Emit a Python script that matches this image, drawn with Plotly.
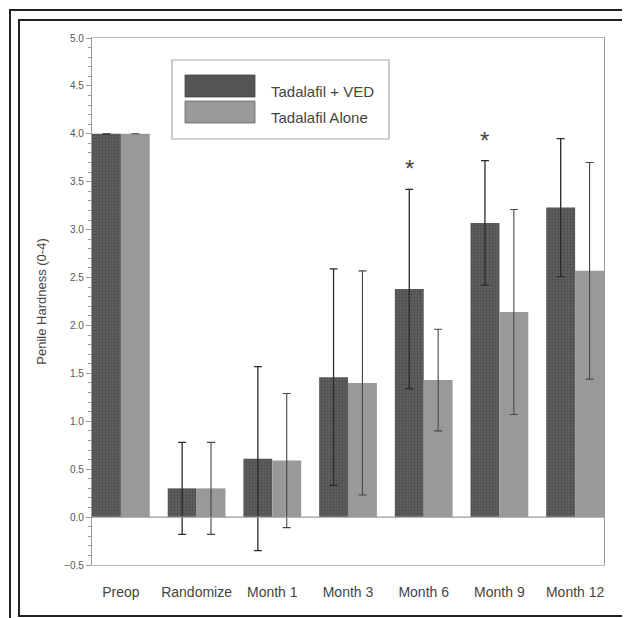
import plotly.graph_objects as go

categories = ["Preop", "Randomize", "Month 1", "Month 3", "Month 6", "Month 9", "Month 12"]
ved_mean = [4.0, 0.30, 0.61, 1.46, 2.38, 3.07, 3.23]
ved_err = [0.0, 0.48, 0.96, 1.13, 1.04, 0.65, 0.72]
alone_mean = [4.0, 0.30, 0.59, 1.40, 1.43, 2.14, 2.57]
alone_err = [0.0, 0.48, 0.70, 1.17, 0.53, 1.07, 1.13]
series_names = ["Tadalafil + VED", "Tadalafil Alone"]
star_cats = ["Month 6", "Month 9"]
star_y = [3.64, 3.93]

W, H = 630, 618
SH = 8  # page body offset
L, R, T, B = 92 - SH, 604 - SH, 38 - SH, 565 - SH
BARGAP = 0.237
FONT = "Arial, Liberation Sans, sans-serif"

def px(x):
    return (x - SH - L) / (R - L)

def py(y):
    return (B - (y - SH)) / (B - T)

fig = go.Figure()
fig.add_trace(go.Bar(
    x=categories, y=ved_mean, name=series_names[0],
    marker=dict(color="#575757", line=dict(width=0),
                pattern=dict(shape=".", fgcolor="#383838", bgcolor="#5e5e5e",
                             size=3, solidity=0.3, fillmode="overlay")),
    error_y=dict(type="data", array=ved_err, color="#2a2a2a", thickness=1.3, width=4),
    showlegend=False,
))
fig.add_trace(go.Bar(
    x=categories, y=alone_mean, name=series_names[1],
    marker=dict(color="#999999", line=dict(width=0)),
    error_y=dict(type="data", array=alone_err, color="#474747", thickness=1.1, width=4),
    showlegend=False,
))

shapes = []
shapes.append(dict(type="line", xref="paper", yref="y", x0=0, x1=1, y0=0, y1=0,
                   line=dict(color="#9a9a9a", width=1.2)))
shapes.append(dict(type="rect", xref="paper", yref="paper", x0=px(10), x1=px(650),
                   y0=py(650), y1=py(10), line=dict(color="#222222", width=2)))
shapes.append(dict(type="rect", xref="paper", yref="paper", x0=px(19), x1=px(623),
                   y0=py(616), y1=py(20), line=dict(color="#222222", width=2)))
shapes.append(dict(type="rect", xref="paper", yref="paper", x0=px(172), x1=px(389),
                   y0=py(139), y1=py(60), line=dict(color="#a8a8a8", width=1.2),
                   fillcolor="white"))
shapes.append(dict(type="rect", xref="paper", yref="paper", x0=px(185), x1=px(255),
                   y0=py(97), y1=py(75), line=dict(color="#444444", width=0.8),
                   fillcolor="#555555"))
shapes.append(dict(type="rect", xref="paper", yref="paper", x0=px(185), x1=px(255),
                   y0=py(123), y1=py(101), line=dict(color="#666666", width=0.8),
                   fillcolor="#999999"))

annotations = []
annotations.append(dict(x=px(269), y=py(91), xref="paper", yref="paper", text=series_names[0],
                        showarrow=False, xanchor="left", yanchor="middle",
                        font=dict(family=FONT, size=15, color="#444444")))
annotations.append(dict(x=px(269), y=py(117), xref="paper", yref="paper", text=series_names[1],
                        showarrow=False, xanchor="left", yanchor="middle",
                        font=dict(family=FONT, size=15, color="#444444")))
off = (1 - BARGAP) / 4
for c, yv in zip(star_cats, star_y):
    annotations.append(dict(x=categories.index(c) - off, y=yv, xref="x", yref="y", text="*",
                            showarrow=False, xanchor="center", yanchor="middle",
                            font=dict(family=FONT, size=24, color="#444444")))

fig.update_layout(
    width=W, height=H,
    margin=dict(l=L, r=W - R, t=T, b=H - B),
    paper_bgcolor="white", plot_bgcolor="white",
    barmode="group", bargap=BARGAP, bargroupgap=0,
    font=dict(family=FONT, color="#444444"),
    shapes=shapes, annotations=annotations,
)
fig.update_xaxes(
    type="category", range=[-(1 - BARGAP) / 2, len(categories) - 1 + (1 - BARGAP) / 2],
    showline=True, linecolor="#bdbdbd", linewidth=1.2, mirror=True,
    ticks="", showgrid=False, tickfont=dict(size=14, color="#444444"),
    ticklabelstandoff=14,
)
fig.update_yaxes(
    range=[-0.5, 5.0], dtick=0.5, tick0=0, tickformat=".1f",
    showline=True, linecolor="#9a9a9a", linewidth=1.2, mirror=True,
    ticks="outside", ticklen=5, tickcolor="#9a9a9a", tickwidth=1,
    minor=dict(dtick=0.1, ticks="outside", ticklen=3, tickcolor="#9a9a9a", tickwidth=1),
    showgrid=False, zeroline=False,
    tickfont=dict(size=10, color="#555555"),
    title=dict(text="Penile Hardness (0-4)", font=dict(size=13, color="#444444"), standoff=14),
)
fig.write_html("out.html")
